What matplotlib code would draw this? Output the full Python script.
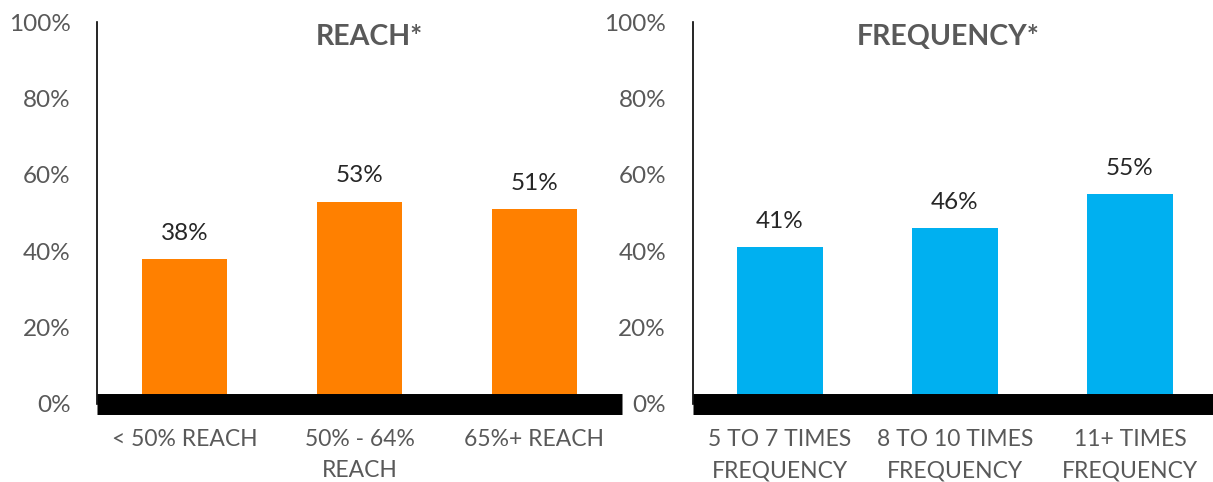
import matplotlib
matplotlib.use("Agg")
import matplotlib.pyplot as plt
from matplotlib.ticker import FuncFormatter

reach_cats = ["< 50% REACH", "50% - 64%\nREACH", "65%+ REACH"]
reach_vals = [0.38, 0.53, 0.51]
freq_cats = ["5 TO 7 TIMES\nFREQUENCY", "8 TO 10 TIMES\nFREQUENCY", "11+ TIMES\nFREQUENCY"]
freq_vals = [0.41, 0.46, 0.55]
yticks = [0, 0.2, 0.4, 0.6, 0.8, 1.0]

GRAY = "#595959"
FONT = ["Lato", "DejaVu Sans"]
plt.rcParams["font.family"] = FONT

W, H = 1213, 482
fig = plt.figure(figsize=(W / 100, H / 100), dpi=100)

def panel(left_px, cats, vals, color, title, title_x):
    ax = fig.add_axes([left_px / W, (H - 404) / H, 525 / W, (404 - 22) / H])
    x = range(len(cats))
    ax.bar(x, vals, width=0.49, color=color, zorder=1)
    ax.set_xlim(-0.5, len(cats) - 0.5)
    ax.set_ylim(0, 1.0)
    ax.set_yticks(yticks)
    ax.yaxis.set_major_formatter(FuncFormatter(lambda v, p: f"{v*100:.0f}%"))
    ax.set_xticks(list(x))
    ax.set_xticklabels(cats, linespacing=1.6)
    ax.tick_params(axis="y", length=0, pad=19, labelsize=17.5, labelcolor=GRAY)
    ax.tick_params(axis="x", length=0, pad=18, labelsize=16.5, labelcolor=GRAY)
    for s in ["top", "right"]:
        ax.spines[s].set_visible(False)
    ax.spines["left"].set_linewidth(1.2)
    ax.spines["left"].set_color("black")
    ax.spines["bottom"].set_linewidth(15.1)
    ax.spines["bottom"].set_color("black")
    ax.spines["bottom"].set_capstyle("butt")
    for xi, v in zip(x, vals):
        ax.annotate(f"{v*100:.0f}%", (xi, v), xytext=(0, 11), textcoords="offset points",
                    ha="center", va="bottom", fontsize=17.5, color="#262626")
    ax.text(title_x, 0.96, title, transform=ax.transAxes, ha="center", va="center",
            fontsize=20.5, fontweight="bold", color=GRAY)
    ax.set_facecolor("none")
    return ax

panel(97, reach_cats, reach_vals, "#FF8000", "REACH*", 0.518)
panel(692.5, freq_cats, freq_vals, "#00B0F0", "FREQUENCY*", 0.487)

fig.savefig("out.png", dpi=100)
